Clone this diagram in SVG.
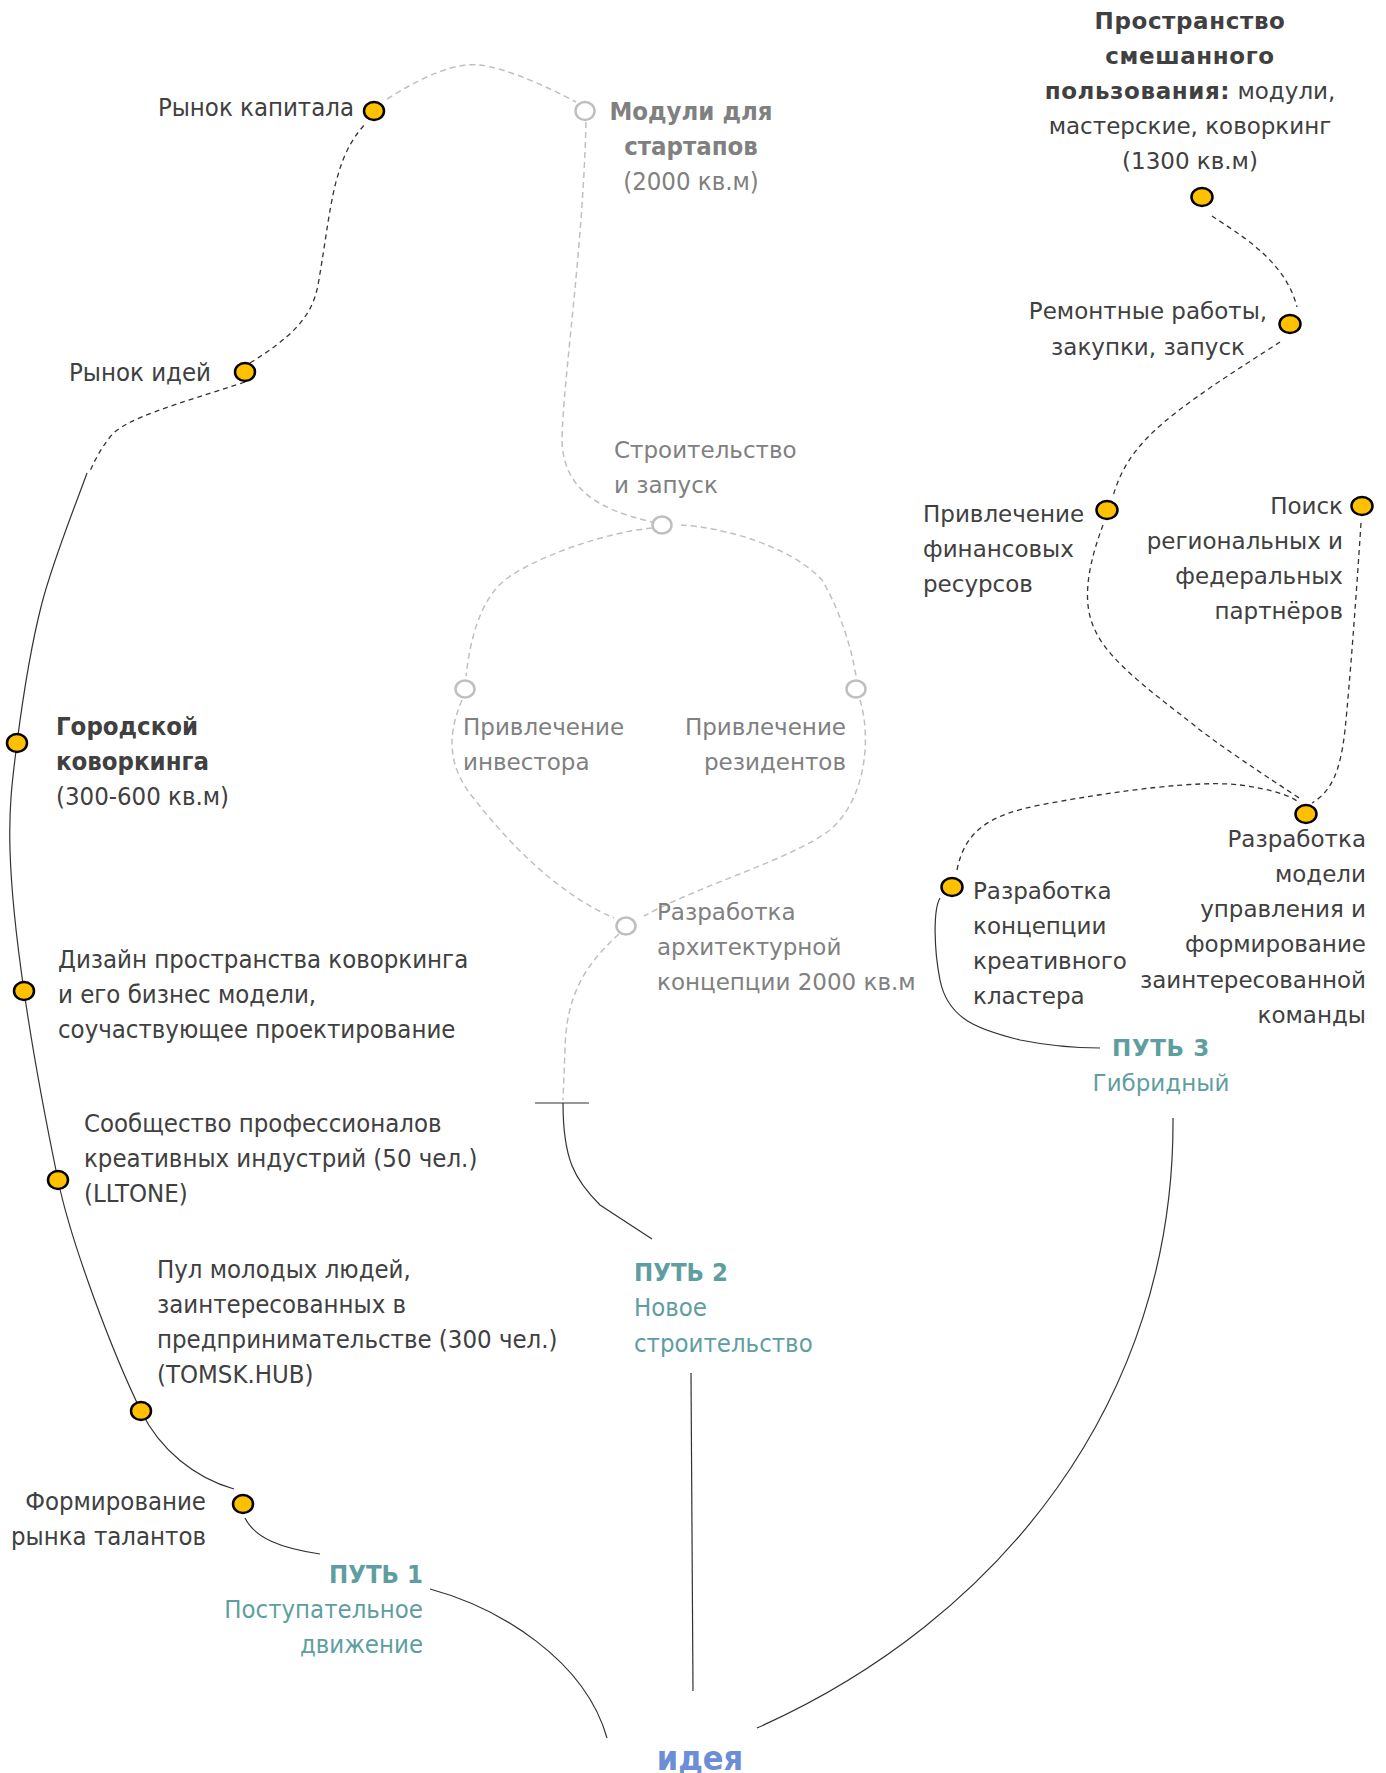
<svg xmlns="http://www.w3.org/2000/svg" width="1386" height="1773" viewBox="0 0 1386 1773">
<style>
.l{font-family:"DejaVu Sans Condensed","DejaVu Sans",sans-serif;font-stretch:condensed;font-size:25.5px;fill:#404040}
.r{font-family:"DejaVu Sans",sans-serif;font-size:23px;fill:#404040}
.r .b{letter-spacing:0.6px}
.g{fill:#808080}
.t{fill:#5f9ea0}
.b{font-weight:bold}
.dot{fill:#ffc000;stroke:#000;stroke-width:2.5}
.gdot{fill:#fff;stroke:#bfbfbf;stroke-width:2.5}
.solid{fill:none;stroke:#333;stroke-width:1.2}
.dash{fill:none;stroke:#333;stroke-width:1.3;stroke-dasharray:5 4}
.gdash{fill:none;stroke:#c0c0c0;stroke-width:1.5;stroke-dasharray:6 4}
</style>
<g id="connectors">
<path class="solid" d="M87,473 C79.5,494.7 53.7,558 42,603 C30.3,648 22.3,701.8 17,743 C11.7,784.2 8.8,808.7 10,850 C11.2,891.3 16,936 24,991 C32,1046 48,1131.8 58,1180 C71,1243 112.5,1352.5 141,1411 C160,1450 195,1478 234,1489"/>
<path class="solid" d="M245,1518 C255,1538 280,1548 320,1554"/>
<path class="solid" d="M430,1589 C500,1608 585,1660 607,1738"/>
<path class="dash" d="M245,382 C175,405 125,418 110,437 C100,450 95,460 90,471"/>
<path class="dash" d="M250,363 C290,338 312,318 318,285 C326,240 330,200 338,175 C345,150 355,135 366,123"/>
<path class="gdash" d="M387,99 C420,78 455,62 478,65 C505,67 550,88 576,102"/>
<path class="gdash" d="M586,122 C583,250 563,380 562,440 C563,490 600,510 652,522"/>
<path class="gdash" d="M652,528 C600,533 530,560 505,580 C480,600 470,640 466,676"/>
<path class="gdash" d="M681,525 C720,527 790,545 822,580 C840,610 852,650 856,676"/>
<path class="gdash" d="M462,700 C445,740 450,770 475,800 C510,845 560,895 614,918"/>
<path class="gdash" d="M860,700 C872,740 865,800 830,830 C790,860 700,885 644,916"/>
<path class="gdash" d="M619,934 C585,965 566,995 565,1050 L563,1100"/>
<path class="solid" d="M535,1103 L589,1103"/>
<path class="solid" d="M563,1103 C563,1160 575,1180 600,1205 L652,1239"/>
<path class="solid" d="M691,1373 L693,1691"/>
<path class="solid" d="M1173,1118 C1175,1400 1000,1620 757,1728"/>
<path class="solid" d="M940,898 C933,910 934,950 940,980 C948,1020 980,1030 1020,1040 C1050,1046 1080,1048 1100,1048"/>
<path class="dash" d="M957,870 C965,830 990,815 1040,805 C1120,790 1200,780 1240,785 C1270,789 1290,795 1300,803"/>
<path class="dash" d="M1103,525 C1090,560 1080,600 1095,630 C1110,665 1170,705 1200,730 C1240,760 1280,785 1302,800"/>
<path class="dash" d="M1361,523 C1356,600 1350,680 1345,730 C1340,775 1330,792 1312,803"/>
<path class="dash" d="M1212,216 C1240,235 1285,260 1297,307"/>
<path class="dash" d="M1280,342 C1240,368 1180,405 1150,435 C1125,460 1118,480 1113,496"/>
</g>
<g id="n-capital"><ellipse class="dot" cx="374" cy="111" rx="10" ry="9"/><text class="l" x="354" y="116" text-anchor="end">Рынок капитала</text></g>
<g id="n-ideas"><ellipse class="dot" cx="245" cy="372" rx="10" ry="9"/><text class="l" x="69" y="381">Рынок идей</text></g>
<g id="n-coworking"><ellipse class="dot" cx="17" cy="743" rx="10" ry="9"/><text class="l" x="56"><tspan class="b" x="56" y="735">Городской</tspan><tspan class="b" x="56" y="770">коворкинга</tspan><tspan x="56" y="805">(300-600 кв.м)</tspan></text></g>
<g id="n-design"><ellipse class="dot" cx="24" cy="991" rx="10" ry="9"/><text class="l"><tspan x="58" y="968">Дизайн пространства коворкинга</tspan><tspan x="58" y="1003">и его бизнес модели,</tspan><tspan x="58" y="1038">соучаствующее проектирование</tspan></text></g>
<g id="n-community"><ellipse class="dot" cx="58" cy="1180" rx="10" ry="9"/><text class="l"><tspan x="84" y="1132">Сообщество профессионалов</tspan><tspan x="84" y="1167">креативных индустрий (50 чел.)</tspan><tspan x="84" y="1202">(LLTONE)</tspan></text></g>
<g id="n-pool"><ellipse class="dot" cx="141" cy="1411" rx="10" ry="9"/><text class="l"><tspan x="157" y="1278">Пул молодых людей,</tspan><tspan x="157" y="1313">заинтересованных в</tspan><tspan x="157" y="1348">предпринимательстве (300 чел.)</tspan><tspan x="157" y="1383">(TOMSK.HUB)</tspan></text></g>
<g id="n-talent"><ellipse class="dot" cx="243" cy="1504" rx="10" ry="9"/><text class="l" text-anchor="end"><tspan x="206" y="1510">Формирование</tspan><tspan x="206" y="1545">рынка талантов</tspan></text></g>
<g id="n-path1"><text class="l t" text-anchor="end"><tspan class="b" x="423" y="1583">ПУТЬ 1</tspan><tspan x="423" y="1618">Поступательное</tspan><tspan x="423" y="1653">движение</tspan></text></g>
<g id="n-path2"><text class="l t"><tspan class="b" x="634" y="1281">ПУТЬ 2</tspan><tspan x="634" y="1316">Новое</tspan><tspan x="634" y="1352">строительство</tspan></text></g>
<g id="n-modules"><ellipse class="gdot" cx="585" cy="111" rx="9.5" ry="9"/><text class="l g" text-anchor="middle"><tspan class="b" x="691" y="120">Модули для</tspan><tspan class="b" x="691" y="155">стартапов</tspan><tspan x="691" y="190">(2000 кв.м)</tspan></text></g>
<g id="n-build"><ellipse class="gdot" cx="662" cy="525" rx="9.5" ry="8.5"/><text class="r g"><tspan x="614" y="458">Строительство</tspan><tspan x="614" y="493">и запуск</tspan></text></g>
<g id="n-investor"><ellipse class="gdot" cx="465" cy="689" rx="9.5" ry="8.5"/><text class="r g"><tspan x="463" y="735">Привлечение</tspan><tspan x="463" y="770">инвестора</tspan></text></g>
<g id="n-residents"><ellipse class="gdot" cx="856" cy="689" rx="9.5" ry="8.5"/><text class="r g" text-anchor="end"><tspan x="846" y="735">Привлечение</tspan><tspan x="846" y="770">резидентов</tspan></text></g>
<g id="n-arch"><ellipse class="gdot" cx="626" cy="926" rx="9.5" ry="8.5"/><text class="r g"><tspan x="657" y="920">Разработка</tspan><tspan x="657" y="955">архитектурной</tspan><tspan x="657" y="990">концепции 2000 кв.м</tspan></text></g>
<g id="n-mixed"><ellipse class="dot" cx="1202" cy="197" rx="10.5" ry="9"/><text class="r" text-anchor="middle"><tspan class="b" x="1190" y="29">Пространство</tspan><tspan class="b" x="1190" y="64">смешанного</tspan><tspan x="1190" y="99"><tspan class="b">пользования:</tspan> модули,</tspan><tspan x="1190" y="134">мастерские, коворкинг</tspan><tspan x="1190" y="169">(1300 кв.м)</tspan></text></g>
<g id="n-repair"><ellipse class="dot" cx="1290" cy="324" rx="10.5" ry="9"/><text class="r" text-anchor="middle"><tspan x="1148" y="319">Ремонтные работы,</tspan><tspan x="1148" y="355">закупки,  запуск</tspan></text></g>
<g id="n-finance"><ellipse class="dot" cx="1107" cy="510" rx="10.5" ry="9"/><text class="r"><tspan x="923" y="522">Привлечение</tspan><tspan x="923" y="557">финансовых</tspan><tspan x="923" y="592">ресурсов</tspan></text></g>
<g id="n-partners"><ellipse class="dot" cx="1362" cy="506" rx="10.5" ry="9"/><text class="r" text-anchor="end"><tspan x="1343" y="514">Поиск</tspan><tspan x="1343" y="549">региональных и</tspan><tspan x="1343" y="584">федеральных</tspan><tspan x="1343" y="619">партнёров</tspan></text></g>
<g id="n-model"><ellipse class="dot" cx="1306" cy="814" rx="10.5" ry="9"/><text class="r" text-anchor="end"><tspan x="1366" y="847">Разработка</tspan><tspan x="1366" y="882">модели</tspan><tspan x="1366" y="917">управления и</tspan><tspan x="1366" y="952">формирование</tspan><tspan x="1366" y="988">заинтересованной</tspan><tspan x="1366" y="1023">команды</tspan></text></g>
<g id="n-cluster"><ellipse class="dot" cx="952" cy="887" rx="10.5" ry="9"/><text class="r"><tspan x="973" y="899">Разработка</tspan><tspan x="973" y="934">концепции</tspan><tspan x="973" y="969">креативного</tspan><tspan x="973" y="1004">кластера</tspan></text></g>
<g id="n-path3"><text class="r t" text-anchor="middle"><tspan class="b" x="1161" y="1056">ПУТЬ 3</tspan><tspan x="1161" y="1091">Гибридный</tspan></text></g>
<g id="n-idea"><text class="l b" x="700" y="1770" text-anchor="middle" style="font-size:34px;fill:#6b8ed6">идея</text></g>
</svg>
